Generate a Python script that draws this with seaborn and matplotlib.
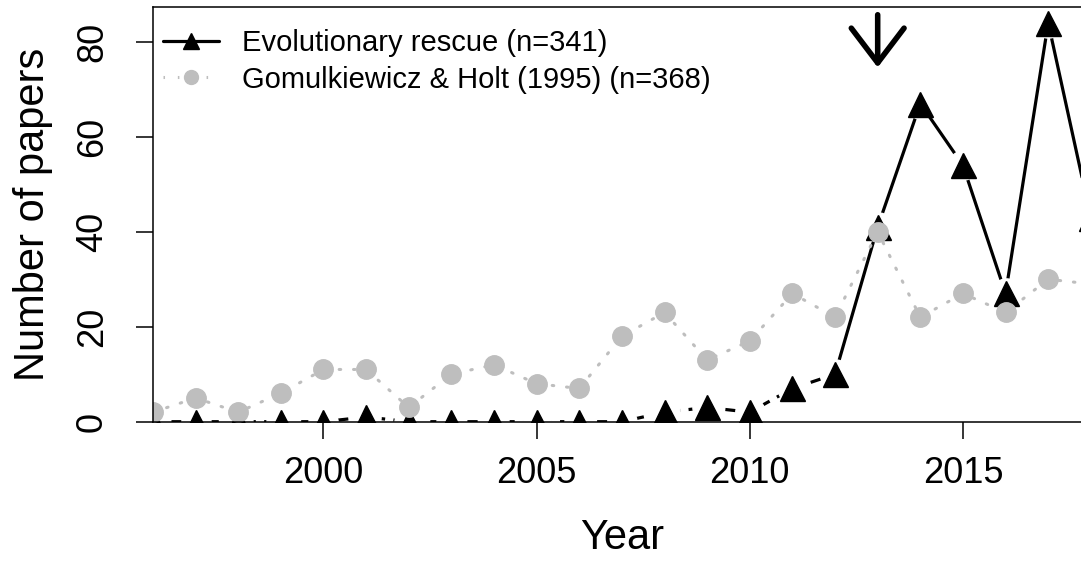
import matplotlib
matplotlib.use('Agg')
import matplotlib.pyplot as plt
from matplotlib.lines import Line2D
import seaborn as sns
import pandas as pd

years = list(range(1996, 2019))
rescue = [0, 0, 0, 0, 0, 1, 0, 0, 0, 0, 0, 0, 2, 3, 2, 7, 10, 41, 67, 54, 27, 84, 43]
gomulkiewicz = [2, 5, 2, 6, 11, 11, 3, 10, 12, 8, 7, 18, 23, 13, 17, 27, 22, 40, 22, 27, 23, 30, 29]
split_year = 2012
arrow_year = 2013
arrow_top, arrow_tip = 85.7, 74.6

label_rescue = 'Evolutionary rescue (n=341)'
label_gh = 'Gomulkiewicz & Holt (1995) (n=368)'

df = pd.DataFrame({'year': years, 'rescue': rescue, 'gh': gomulkiewicz})
early = df[df['year'] <= split_year]
late = df[df['year'] >= split_year]

sns.set_style('ticks')
plt.rcParams['font.family'] = ['Liberation Sans', 'DejaVu Sans']
for key in ['text.color', 'axes.labelcolor', 'xtick.color', 'ytick.color', 'axes.edgecolor']:
    plt.rcParams[key] = 'black'

fig = plt.figure(figsize=(10.81, 5.61), dpi=100)
ax = fig.add_axes([0.1415, 0.2483, 0.8676, 0.7398])

grey = '#BEBEBE'
dotted = (0, (0.5, 4.2))

# black series: dashed up to 2012, solid after; white halo gives the R type="b" gaps
sns.lineplot(data=early, x='year', y='rescue', ax=ax, color='black', lw=2.3,
             linestyle=(0, (3.2, 2.6)), zorder=2)
sns.lineplot(data=late, x='year', y='rescue', ax=ax, color='black', lw=2.3, zorder=2)
ax.plot(df['year'], df['rescue'], ls='none', marker='o', ms=21, color='white', zorder=2.1)
ax.plot(df['year'], df['rescue'], ls='none', marker='^', ms=18, color='black', zorder=2.2)

# grey series on top
sns.lineplot(data=df, x='year', y='gh', ax=ax, color=grey, lw=2.2,
             linestyle=dotted, dash_capstyle='round', zorder=2.3)
ax.plot(df['year'], df['gh'], ls='none', marker='o', ms=14, color=grey, zorder=2.4)

ax.annotate('', xy=(arrow_year, arrow_tip), xytext=(arrow_year, arrow_top),
            arrowprops=dict(arrowstyle='->, head_length=2.5, head_width=1.9',
                            lw=4, color='black', shrinkA=0, shrinkB=0,
                            mutation_scale=10, capstyle='round', joinstyle='round'))

ax.set_xlim(1996, 2018)
ax.set_ylim(0, 87.4)
ax.set_xticks([2000, 2005, 2010, 2015])
ax.set_yticks([0, 20, 40, 60, 80])
ax.tick_params(axis='both', direction='out', length=12, width=1.1, colors='black', labelsize=26)
ax.tick_params(axis='y', pad=19)
ax.tick_params(axis='x', pad=13)
plt.setp(ax.get_yticklabels(), rotation=90, va='center')

for side in ['left', 'top', 'bottom']:
    ax.spines[side].set_visible(True)
    ax.spines[side].set_color('black')
    ax.spines[side].set_linewidth(1.1)
ax.spines['right'].set_visible(False)

ax.set_xlabel('Year', fontsize=30)
ax.set_ylabel('Number of papers', fontsize=30)
ax.xaxis.set_label_coords(0.5, -0.232)
ax.yaxis.set_label_coords(-0.1066, 0.5)

handles = [
    Line2D([], [], color='black', lw=2.3, marker='^', ms=11),
    Line2D([], [], color=grey, lw=2.2, linestyle=dotted, marker='o', ms=10),
]
ax.legend(handles, [label_rescue, label_gh], loc='upper left', bbox_to_anchor=(0.0, 0.971),
          frameon=False, fontsize=21, handlelength=1.9, handletextpad=0.8,
          labelspacing=0.3, borderaxespad=0.0, borderpad=0.35)

fig.savefig('out.png', dpi=100)
